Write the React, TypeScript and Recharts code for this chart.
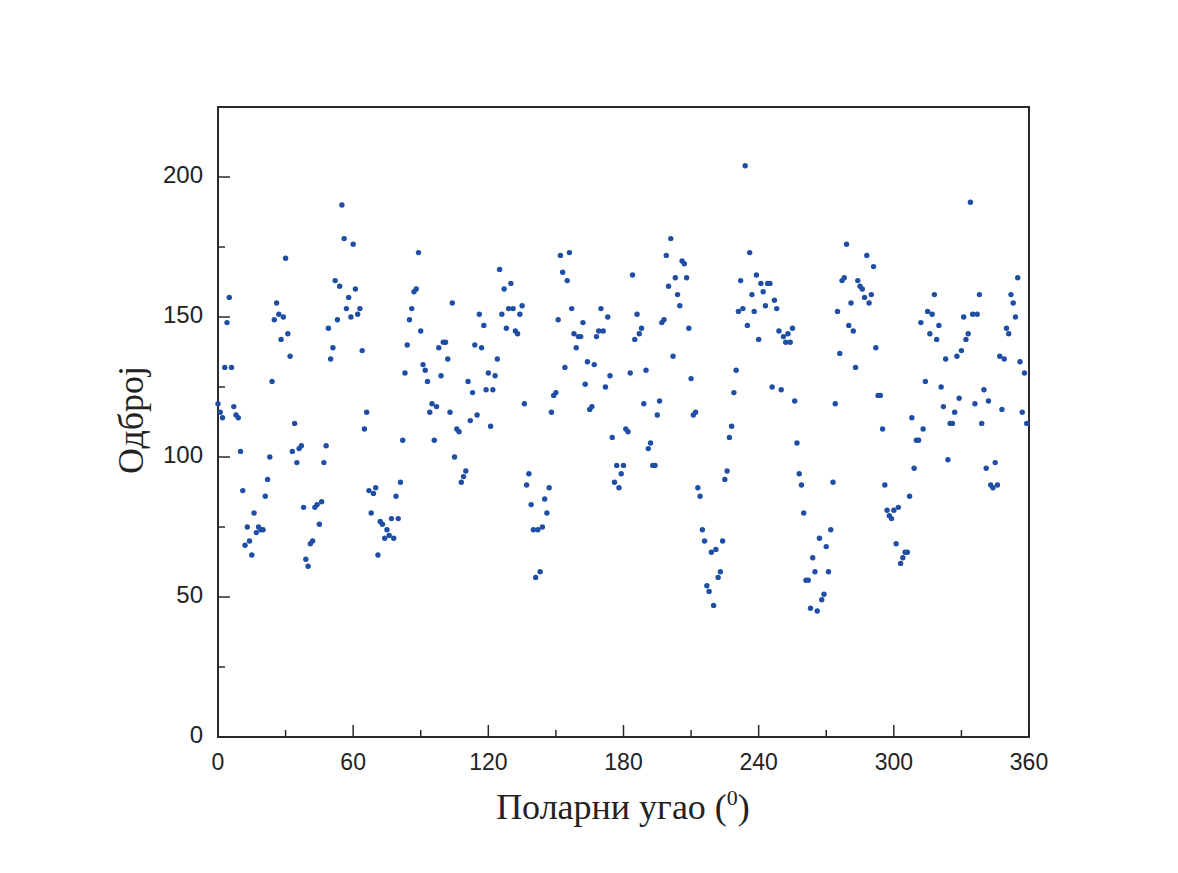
import React from "react";
import { ScatterChart, Scatter, XAxis, YAxis, ReferenceArea } from "recharts";

// counts read per degree, one array per 60° block
const counts0 = [
  119, 116, 114, 132, 148, 157, 132, 118, 115, 114,
  102, 88, 68.5, 75, 70, 65, 80, 73, 75, 74,
  74, 86, 92, 100, 127, 149, 155, 151, 142, 150,
  171, 144, 136, 102, 112, 98, 103, 104, 82, 63.5,
  61, 69, 70, 82, 83, 76, 84, 98, 104, 146,
  135, 139, 163, 149, 161, 190, 178, 153, 157, 150,
];
const counts60 = [
  176, 160, 151, 153, 138, 110, 116, 88, 80, 87,
  89, 65, 77, 76, 71, 74, 72, 78, 71, 86,
  78, 91, 106, 130, 140, 149, 153, 159, 160, 173,
  145, 133, 131, 127, 116, 119, 106, 118, 139, 129,
  141, 141, 135, 116, 155, 100, 110, 109, 91, 93,
  95, 127, 113, 123, 140, 115, 151, 139, 147, 124,
];
const counts120 = [
  130, 111, 124, 129, 135, 167, 151, 160, 146, 153,
  162, 153, 145, 144, 151, 154, 119, 90, 94, 83,
  74, 57, 74, 59, 75, 85, 80, 89, 116, 122,
  123, 149, 172, 166, 132, 163, 173, 153, 144, 139,
  143, 143, 148, 126, 134, 117, 118, 133, 143, 145,
  153, 145, 125, 150, 129, 107, 91, 97, 89, 94,
];
const counts180 = [
  97, 110, 109, 130, 165, 142, 151, 144, 146, 119,
  131, 103, 105, 97, 97, 115, 120, 148, 149, 172,
  161, 178, 136, 164, 158, 154, 170, 169, 164, 146,
  128, 115, 116, 89, 86, 74, 70, 54, 52, 66,
  47, 67, 57, 59, 70, 92, 95, 107, 111, 123,
  131, 152, 163, 153, 204, 147, 173, 158, 152, 165,
];
const counts240 = [
  142, 162, 159, 154, 162, 162, 125, 156, 153, 145,
  124, 143, 141, 144, 141, 146, 120, 105, 94, 90,
  80, 56, 56, 46, 64, 59, 45, 71, 49, 51,
  68, 59, 74, 91, 119, 152, 137, 163, 164, 176,
  147, 155, 145, 132, 163, 161, 160, 157, 172, 155,
  158, 168, 139, 122, 122, 110, 90, 81, 79, 78,
];
const counts300 = [
  81, 69, 82, 62, 64, 66, 66, 86, 114, 96,
  106, 106, 148, 110, 127, 152, 144, 151, 158, 142,
  147, 125, 118, 135, 99, 112, 112, 116, 136, 121,
  138, 150, 142, 144, 191, 151, 119, 151, 158, 112,
  124, 96, 120, 90, 89, 98, 90, 136, 117, 135,
  146, 144, 158, 155, 150, 164, 134, 116, 130, 112,
];

const blockStarts = [0, 60, 120, 180, 240, 300];
const blocks = [counts0, counts60, counts120, counts180, counts240, counts300];

const xTicks = [0, 30, 60, 90, 120, 150, 180, 210, 240, 270, 300, 330, 360];
const yTicks = [0, 25, 50, 75, 100, 125, 150, 175, 200];

const data = blocks.flatMap((block, b) =>
  block.map((count, i) => ({ angle: blockStarts[b] + i, count }))
);

const axisColor = "#2a2a2a";
const tickFont = "'Liberation Sans', Arial, sans-serif";
const titleFont = "'Liberation Serif', 'Times New Roman', serif";

function renderXTick(props: any) {
  const { x, y, payload } = props;
  const major = payload.value % 60 === 0;
  return (
    <g>
      <line x1={x} x2={x} y1={y} y2={y - (major ? 12 : 7)} stroke={axisColor} strokeWidth={1.5} />
      {major && (
        <text x={x} y={y + 33} textAnchor="middle" fontSize={23} fontFamily={tickFont} fill="#222">
          {payload.value}
        </text>
      )}
    </g>
  );
}

function renderYTick(props: any) {
  const { x, y, payload } = props;
  const major = payload.value % 50 === 0;
  return (
    <g>
      <line x1={x} x2={x + (major ? 12 : 7)} y1={y} y2={y} stroke={axisColor} strokeWidth={1.5} />
      {major && (
        <text x={x - 15} y={y + 6} textAnchor="end" fontSize={24} fontFamily={tickFont} fill="#222">
          {payload.value}
        </text>
      )}
    </g>
  );
}

function Dot(props: any) {
  return <circle cx={props.cx} cy={props.cy} r={2.7} fill="#1f4ea5" />;
}

export default function App() {
  return (
    <div style={{ position: "relative", width: 1170, height: 865 }}>
      <ScatterChart width={1170} height={865} margin={{ top: 99, right: 149, bottom: 0, left: 0 }}>
        <XAxis
          dataKey="angle"
          type="number"
          domain={[0, 360]}
          ticks={xTicks}
          interval={0}
          tickSize={0}
          tickMargin={0}
          tickLine={false}
          tick={renderXTick}
          axisLine={{ stroke: axisColor, strokeWidth: 2 }}
          height={136}
        />
        <YAxis
          dataKey="count"
          type="number"
          domain={[0, 225]}
          ticks={yTicks}
          interval={0}
          tickSize={0}
          tickMargin={0}
          tickLine={false}
          tick={renderYTick}
          axisLine={{ stroke: axisColor, strokeWidth: 2 }}
          width={210}
        />
        <ReferenceArea x1={0} x2={360} y1={0} y2={225} fill="none" stroke={axisColor} strokeWidth={2} />
        <Scatter data={data} shape={Dot} isAnimationActive={false} />
      </ScatterChart>
      <svg width={1170} height={865} style={{ position: "absolute", left: 0, top: 0, pointerEvents: "none" }}>
        <text x={615} y={811} textAnchor="middle" fontSize={36} fontFamily={titleFont} fill="#222">
          Поларни угао (
          <tspan fontSize={22} dy={-14}>0</tspan>
          <tspan dy={14}>)</tspan>
        </text>
        <text
          transform="translate(135,412) rotate(-90)"
          textAnchor="middle"
          fontSize={36}
          fontFamily={titleFont}
          fill="#222"
        >
          Одброј
        </text>
      </svg>
    </div>
  );
}
